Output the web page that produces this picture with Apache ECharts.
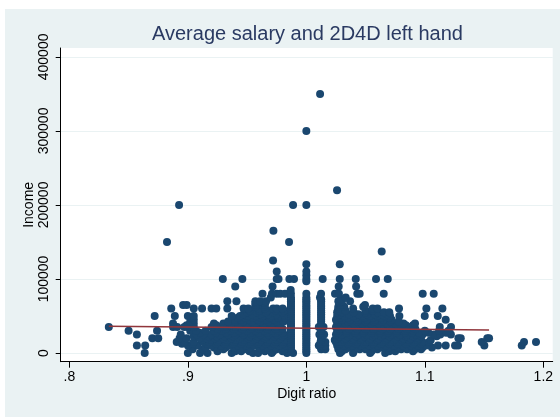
<!DOCTYPE html>
<html>
<head>
<meta charset="utf-8">
<script src="https://cdn.jsdelivr.net/npm/echarts@6/dist/echarts.min.js"></script>
<style>
  html, body { margin: 0; padding: 0; background: #fff; }
  #chart { width: 560px; height: 417px; }
</style>
</head>
<body>
<div id="chart"></div>
<script>
var xTicks = [0.8, 0.9, 1, 1.1, 1.2];
var yTicks = [0, 100000, 200000, 300000, 400000];

// income values the answers cluster on, and the digit ratios read at each one
var incomeLevels = [
  0, 2500, 5000, 7500, 10000, 12500, 15000, 17500, 20000, 22500, 25000, 27500,
  30000, 32500, 35000, 37500, 40000, 42500, 45000, 47500,
  50000, 52500, 55000, 57500, 60000, 62500, 65000, 67500, 70000, 72500, 75000,
  80000, 85000, 90000, 97000,
  100000, 105000, 110000, 120000, 125000, 137000, 150000, 165000, 200000,
  220000, 300000, 350000
];
var ratiosAtLevel = [
  [.8636, .9, .9103, .9166, .937, .955, .9593, .9708, .9837, .9888, 1, 1.0284, 1.0394, 1.0538, 1.0665],
  [.925, .94, .945, .952, .965, .972, .98, .987, 1, 1.03, 1.04, 1.055, 1.07, 1.075, 1.09],
  [.904, .9125, .9255, .93, .944, .95, .962, .968, .975, .981, .987, 1, 1.0125, 1.016, 1.027, 1.033, 1.045, 1.05, 1.06, 1.072, 1.08, 1.085, 1.0917, 1.0968],
  [.915, .922, .932, .939, .946, .953, .96, .967, .974, .98, .987, 1, 1.0125, 1.029, 1.036, 1.043, 1.05, 1.057, 1.064, 1.07, 1.077, 1.084, 1.091, 1.098, 1.106],
  [.857, .864, .9, .908, .92, .928, .935, .942, .949, .956, .963, .97, .977, .983, .987, 1, 1.0105, 1.0125, 1.016, 1.026, 1.032, 1.039, 1.046, 1.053, 1.06, 1.067, 1.074, 1.081, 1.088, 1.094, 1.101, 1.1111, 1.1176, 1.1255, 1.128, 1.1818, 1.1502],
  [.895, .904, .916, .924, .931, .938, .945, .952, .959, .966, .973, .98, .987, 1, 1.0125, 1.028, 1.035, 1.042, 1.049, 1.056, 1.063, 1.07, 1.077, 1.084, 1.09, 1.097],
  [.8906, .897, .905, .913, .918, .925, .932, .939, .946, .953, .96, .967, .974, .98, .987, 1, 1.012, 1.016, 1.025, 1.03, 1.036, 1.043, 1.05, 1.057, 1.064, 1.071, 1.078, 1.085, 1.091, 1.098, 1.1036, 1.148, 1.1837, 1.1938],
  [.912, .919, .926, .933, .94, .948, .955, .962, .969, .976, .982, .987, 1, 1.0125, 1.024, 1.032, 1.039, 1.046, 1.053, 1.06, 1.067, 1.074, 1.081, 1.087, 1.094, 1.105],
  [.87, .875, .893, .899, .91, .916, .923, .93, .937, .944, .951, .958, .965, .972, .978, .987, 1, 1.0125, 1.026, 1.033, 1.04, 1.047, 1.054, 1.061, 1.068, 1.075, 1.082, 1.088, 1.095, 1.1303, 1.1283, 1.1527, 1.1542],
  [.905, .917, .924, .931, .938, .945, .952, .959, .966, .973, .98, .987, 1, 1.0125, 1.028, 1.035, 1.042, 1.049, 1.056, 1.063, 1.07, 1.077, 1.084, 1.09, 1.097, 1.11],
  [.857, .894, .9075, .913, .92, .927, .934, .94, .947, .954, .961, .968, .975, .981, .987, 1, 1.011, 1.015, 1.025, 1.03, 1.037, 1.044, 1.051, 1.058, 1.065, 1.072, 1.079, 1.085, 1.092, 1.098, 1.108, 1.113, 1.122],
  [.91, .924, .932, .939, .946, .953, .96, .967, .974, .98, .987, 1, 1.0125, 1.027, 1.034, 1.041, 1.048, 1.055, 1.062, 1.069, 1.076, 1.083, 1.089, 1.095, 1.103, 1.118],
  [.85, .874, .902, .907, .915, .922, .929, .936, .943, .95, .957, .964, .971, .977, .987, 1, 1.0125, 1.026, 1.034, 1.041, 1.048, 1.055, 1.062, 1.069, 1.076, 1.083, 1.09, 1.1, 1.112, 1.12],
  [.925, .932, .939, .946, .953, .96, .967, .974, .98, .987, 1, 1.0125, 1.028, 1.036, 1.043, 1.05, 1.057, 1.064, 1.071, 1.078, 1.085, 1.092],
  [.8333, .8875, .891, .897, .9, .905, .92, .928, .933, .94, .947, .954, .961, .968, .975, .987, 1, 1.0105, 1.0145, 1.025, 1.03, 1.037, 1.044, 1.051, 1.058, 1.065, 1.072, 1.079, 1.086, 1.09, 1.1126, 1.1221],
  [.899, .924, .936, .943, .95, .957, .964, .971, .978, .987, 1, 1.0125, 1.028, 1.035, 1.042, 1.049, 1.056, 1.063, 1.07, 1.077, 1.084, 1.09],
  [.8875, .905, .922, .93, .936, .943, .95, .957, .964, .971, .978, .987, 1, 1.0125, 1.026, 1.033, 1.04, 1.047, 1.054, 1.061, 1.068, 1.075, 1.082, 1.0917],
  [.902, .934, .94, .947, .954, .961, .968, .975, .981, .987, 1, 1.0125, 1.027, 1.035, 1.043, 1.05, 1.057, 1.064, 1.071, 1.078],
  [.905, .94, .945, .952, .959, .966, .973, .98, .987, 1, 1.0125, 1.025, 1.03, 1.037, 1.044, 1.051, 1.058, 1.065, 1.072, 1.1176],
  [.903, .942, .948, .955, .962, .969, .976, .982, .987, 1, 1.0125, 1.028, 1.035, 1.042, 1.049, 1.056, 1.063, 1.07],
  [.872, .889, .9, .905, .937, .944, .95, .957, .963, .97, .976, .982, .987, 1, 1.0125, 1.026, 1.032, 1.04, 1.047, 1.053, 1.06, 1.066, 1.0706, 1.0785, 1.0999, 1.1109],
  [.947, .954, .961, .968, .975, .981, .987, 1, 1.0125, 1.028, 1.036, 1.044, 1.051, 1.058, 1.064, 1.068],
  [.95, .958, .966, .972, .98, .987, 1, 1.0125, 1.026, 1.03, 1.04, 1.05, 1.06, 1.0655, 1.07],
  [.952, .96, .967, .974, .981, .987, 1, 1.0125, 1.027, 1.033, 1.05, 1.056],
  [.886, .905, .912, .92, .924, .9333, .947, .951, .96, .965, .972, .975, .98, .987, 1, 1.0125, 1.027, 1.0395, 1.056, 1.06, 1.0782, 1.1013, 1.1148],
  [.957, .964, .987, 1, 1.0125, 1.027, 1.032, 1.048],
  [.896, .899, .957, .965, .987, 1, 1.0125, 1.0285, 1.0495],
  [.957, .965, .987, 1, 1.0125, 1.028],
  [.9333, .941, .957, .961, .966, .987, 1, 1.0125, 1.027, 1.03, 1.0369],
  [.987, 1, 1.0125, 1.029],
  [.97, .987, 1, 1.0115, 1.0332],
  [.963, .971, .975, .978, .982, .987, 1, 1.0124, 1.0242, 1.0275, 1.043, 1.045, 1.0653, 1.0982, 1.1075],
  [.9868],
  [.94, .9715, 1.0273, 1.042],
  [1],
  [.9295, .946, .975, .9765, .9857, .9896, 1, 1.0138, 1.0282, 1.0417, 1.0588, 1.0687],
  [1],
  [.975, 1],
  [1, 1.0282],
  [.9719],
  [1.0636],
  [.8824, .9854],
  [.9722],
  [.8926, .9888, 1],
  [1.0259],
  [1],
  [1.0116]
];

// fitted line end points
var fitRatio = [.8333, 1.1542];
var fitIncome = [36000, 31000];

var points = [];
incomeLevels.forEach(function (income, i) {
  ratiosAtLevel[i].forEach(function (ratio) {
    points.push([ratio, income]);
  });
});
var fitLine = fitRatio.map(function (ratio, i) {
  return [ratio, fitIncome[i]];
});

var fontFamily = "Liberation Sans";
var myChart = echarts.init(document.getElementById("chart"), null, { renderer: "canvas" });
myChart.setOption({
  animation: false,
  backgroundColor: "#fff",
  textStyle: { fontFamily: fontFamily },
  graphic: [
    {
      type: "rect",
      z: -10,
      shape: { x: 5, y: 9, width: 555, height: 408 },
      style: { fill: "#eaf2f3" }
    }
  ],
  title: {
    text: "Average salary and 2D4D left hand",
    left: 147,
    top: 19,
    textStyle: { color: "#2a3a62", fontSize: 20, fontWeight: "normal", fontFamily: fontFamily }
  },
  grid: {
    left: 60.7,
    right: 7.3,
    top: 48,
    bottom: 55.3,
    show: true,
    backgroundColor: "#fff",
    borderWidth: 0
  },
  xAxis: {
    type: "value",
    min: 0.7927,
    max: 1.2079,
    name: "Digit ratio",
    nameLocation: "middle",
    nameGap: 25,
    nameMoveOverlap: false,
    nameTextStyle: { color: "#000", fontSize: 14, fontFamily: fontFamily },
    axisLine: { show: true, onZero: false, lineStyle: { color: "#000", width: 1 } },
    axisTick: { show: true, length: 6, customValues: xTicks, lineStyle: { color: "#000" } },
    axisLabel: {
      customValues: xTicks,
      color: "#000",
      fontSize: 14,
      margin: 8,
      formatter: function (v) {
        return String(v).replace(/^0/, "");
      }
    },
    splitLine: { show: false }
  },
  yAxis: {
    type: "value",
    min: -11750,
    max: 412000,
    name: "Income",
    nameLocation: "middle",
    nameGap: 25,
    nameMoveOverlap: false,
    nameTextStyle: { color: "#000", fontSize: 14, fontFamily: fontFamily },
    axisLine: { show: true, onZero: false, lineStyle: { color: "#000", width: 1 } },
    axisTick: { show: true, length: 5, customValues: yTicks, lineStyle: { color: "#000" } },
    axisLabel: {
      customValues: yTicks,
      color: "#000",
      fontSize: 14,
      rotate: 90,
      margin: 10,
      hideOverlap: false,
      formatter: function (v) {
        return String(v);
      }
    },
    splitLine: { show: true, lineStyle: { color: "#eaf2f3", width: 1 } }
  },
  series: [
    {
      type: "scatter",
      data: points,
      symbol: "circle",
      symbolSize: 8,
      itemStyle: { color: "#1a476f", opacity: 1 },
      z: 2
    },
    {
      type: "line",
      data: fitLine,
      showSymbol: false,
      lineStyle: { color: "#90353b", width: 1.5 },
      z: 3
    }
  ]
});
</script>
</body>
</html>
